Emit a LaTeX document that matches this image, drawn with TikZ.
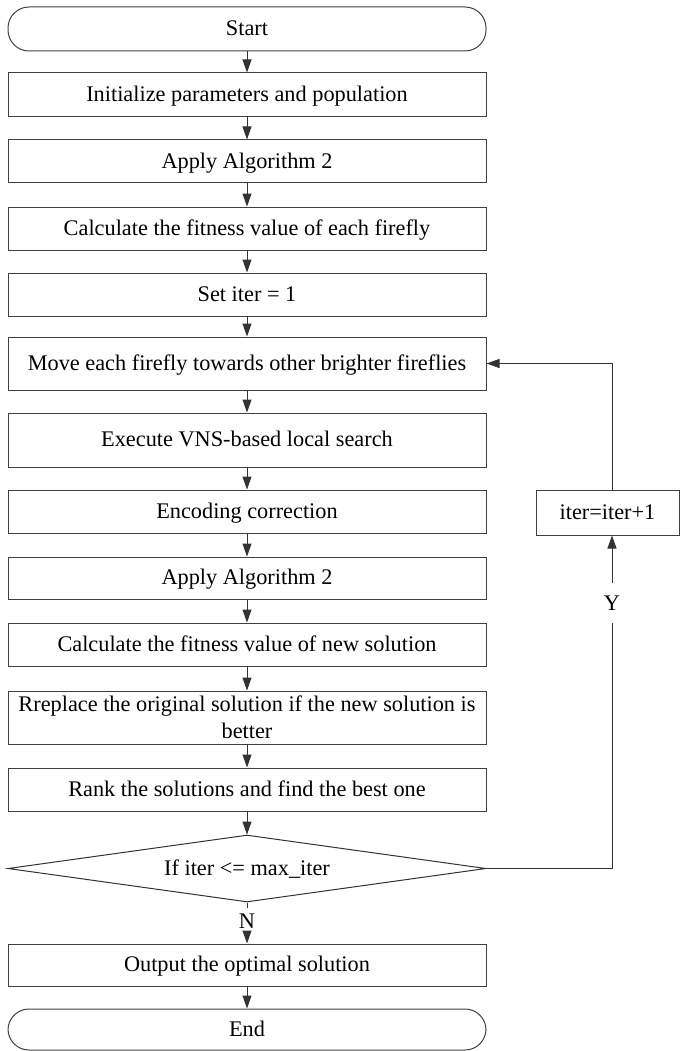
\documentclass[tikz,border=0pt]{standalone}
\usepackage{fontspec}
\setmainfont{Liberation Serif}
\usetikzlibrary{arrows.meta,shapes.geometric}
\begin{document}
\begin{tikzpicture}[x=1pt,y=-1pt,
  box/.style={draw=black!75, line width=1pt, minimum width=478pt, inner sep=0pt,
    font=\fontsize{22.3}{27}\selectfont, align=center, text height=16pt, text depth=3pt},
  term/.style={box, rounded corners=21pt},
  arr/.style={draw=black!80, line width=1pt, -{Triangle[length=13pt,width=9pt]}},
  ln/.style={draw=black!80, line width=1pt},
  lbl/.style={font=\fontsize{22.3}{27}\selectfont, inner sep=0pt, text height=15pt, text depth=0pt}
]
\useasboundingbox (0,0) rectangle (680,1051);

\node[term, minimum height=44pt] (start) at (247,29) {Start};
\node[box, minimum height=44pt] (init) at (247,95) {Initialize parameters and population};
\node[box, minimum height=43pt] (alg1) at (247,161.5) {Apply Algorithm 2};
\node[box, minimum height=43pt] (fit1) at (247,228.5) {Calculate the fitness value of each firefly};
\node[box, minimum height=43pt] (set) at (247,294.5) {Set iter = 1};
\node[box, minimum height=53pt] (move) at (247,363.5) {Move each firefly towards other brighter fireflies};
\node[box, minimum height=54pt] (vns) at (247,440) {Execute VNS-based local search};
\node[box, minimum height=43pt] (enc) at (247,511.5) {Encoding correction};
\node[box, minimum height=42pt] (alg2) at (247,578) {Apply Algorithm 2};
\node[box, minimum height=43pt] (fit2) at (247,644.5) {Calculate the fitness value of new solution};
\node[box, minimum height=53pt, text height=, text depth=] (rep) at (247,717.5) {Rreplace the original solution if the new solution is\\better};
\node[box, minimum height=43pt] (rank) at (247,789.5) {Rank the solutions and find the best one};
\node[draw=black!80, line width=1pt, shape=diamond, aspect=7, inner sep=0pt,
      minimum width=478pt, minimum height=67pt, text height=16pt, text depth=3pt,
      font=\fontsize{22.3}{27}\selectfont] (dia) at (247,868.5) {If iter <= max\_iter};
\node[box, minimum height=42pt] (out) at (247,965) {Output the optimal solution};
\node[term, minimum height=41pt] (end) at (247,1029.5) {End};

\node[box, minimum width=143pt, minimum height=45pt] (iter) at (607.5,512.5) {iter=iter+1};

\node[lbl, minimum height=40pt] (ylab) at (612,603) {Y};
\node[lbl, minimum height=26pt] (nlab) at (247,921) {N};

\draw[arr] (start) -- (init);
\draw[arr] (init) -- (alg1);
\draw[arr] (alg1) -- (fit1);
\draw[arr] (fit1) -- (set);
\draw[arr] (set) -- (move);
\draw[arr] (move) -- (vns);
\draw[arr] (vns) -- (enc);
\draw[arr] (enc) -- (alg2);
\draw[arr] (alg2) -- (fit2);
\draw[arr] (fit2) -- (rep);
\draw[arr] (rep) -- (rank);
\draw[arr] (rank) -- (dia);
\draw[ln] (dia.south) -- (nlab.north);
\draw[arr] (nlab.south) -- (out.north);
\draw[arr] (out) -- (end);

\draw[ln] (dia.east) -| (ylab.south);
\draw[arr] (ylab.north) -- (ylab.north |- iter.south);
\draw[arr] (ylab.north |- iter.north) |- (move.east);
\end{tikzpicture}
\end{document}
